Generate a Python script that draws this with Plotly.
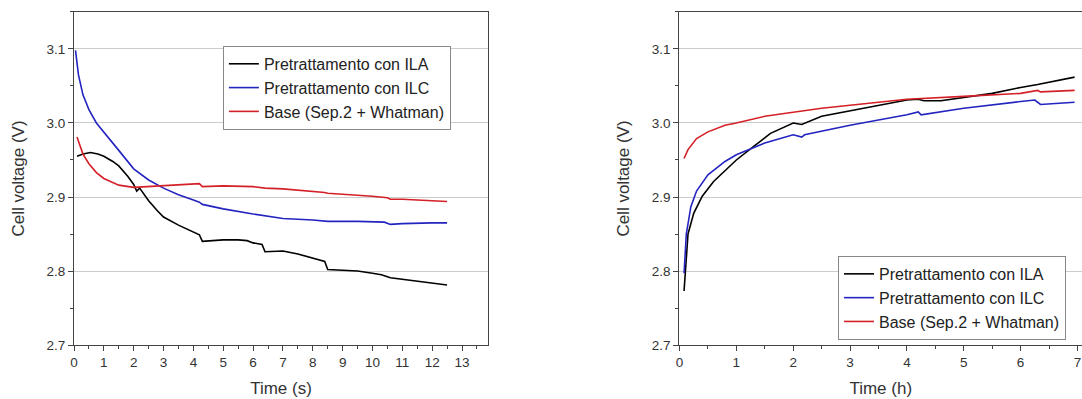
import plotly.graph_objects as go

# ---- Left panel data: Time (s) ----
t_ila_s = [0.1, 0.3, 0.55, 0.8, 1.0, 1.3, 1.5, 1.8, 2.0, 2.1, 2.2, 2.5, 2.8, 3.0, 3.5, 4.0, 4.2, 4.3, 4.7, 5.0, 5.5, 5.8, 6.0, 6.3, 6.4, 7.0, 7.5, 8.0, 8.4, 8.5, 9.0, 9.5, 10.0, 10.3, 10.6, 11.0, 11.5, 12.0, 12.5]
v_ila_s = [2.955, 2.958, 2.96, 2.958, 2.955, 2.948, 2.942, 2.928, 2.917, 2.908, 2.912, 2.895, 2.881, 2.873, 2.862, 2.853, 2.849, 2.840, 2.841, 2.842, 2.842, 2.841, 2.838, 2.836, 2.826, 2.827, 2.823, 2.818, 2.813, 2.802, 2.801, 2.800, 2.797, 2.795, 2.791, 2.789, 2.786, 2.783, 2.781]

t_ilc_s = [0.05, 0.15, 0.3, 0.5, 0.75, 1.0, 1.5, 2.0, 2.5, 3.0, 3.5, 4.0, 4.2, 4.3, 5.0, 6.0, 6.3, 6.4, 7.0, 8.0, 8.4, 8.5, 9.5, 10.4, 10.6, 11.0, 12.0, 12.5]
v_ilc_s = [3.098, 3.065, 3.038, 3.018, 3.0, 2.988, 2.963, 2.938, 2.923, 2.912, 2.903, 2.896, 2.893, 2.890, 2.884, 2.877, 2.875, 2.874, 2.871, 2.869, 2.868, 2.867, 2.867, 2.866, 2.863, 2.864, 2.865, 2.865]

t_base_s = [0.1, 0.2, 0.3, 0.5, 0.75, 1.0, 1.5, 2.0, 2.5, 3.0, 3.5, 4.2, 4.3, 5.0, 6.0, 6.4, 7.0, 8.0, 8.4, 8.5, 9.0, 10.0, 10.5, 10.6, 11.0, 12.0, 12.5]
v_base_s = [2.981, 2.97, 2.958, 2.945, 2.933, 2.925, 2.916, 2.913, 2.914, 2.916, 2.917, 2.918, 2.914, 2.915, 2.914, 2.912, 2.911, 2.908, 2.906, 2.905, 2.904, 2.901, 2.899, 2.897, 2.897, 2.895, 2.894]

# ---- Right panel data: Time (h) ----
t_ila_h = [0.08, 0.1, 0.15, 0.25, 0.4, 0.6, 0.8, 1.0, 1.3, 1.6, 2.0, 2.15, 2.5, 3.0, 3.5, 4.0, 4.2, 4.3, 4.6, 5.0, 5.5, 6.0, 6.3, 6.95]
v_ila_h = [2.773, 2.80, 2.85, 2.878, 2.901, 2.921, 2.936, 2.95, 2.968, 2.986, 3.0, 2.998, 3.009, 3.016, 3.024, 3.031, 3.032, 3.030, 3.030, 3.034, 3.040, 3.048, 3.052, 3.062]

t_ilc_h = [0.08, 0.12, 0.2, 0.3, 0.5, 0.8, 1.0, 1.5, 2.0, 2.15, 2.2, 3.0, 4.0, 4.2, 4.25, 5.0, 6.0, 6.25, 6.35, 6.95]
v_ilc_h = [2.797, 2.85, 2.887, 2.908, 2.93, 2.948, 2.957, 2.973, 2.984, 2.981, 2.984, 2.997, 3.011, 3.015, 3.011, 3.020, 3.029, 3.031, 3.025, 3.028]

t_base_h = [0.08, 0.15, 0.3, 0.5, 0.8, 1.0, 1.5, 2.0, 2.5, 3.0, 4.0, 5.0, 6.0, 6.3, 6.35, 6.95]
v_base_h = [2.952, 2.964, 2.979, 2.988, 2.997, 3.0, 3.009, 3.015, 3.02, 3.024, 3.032, 3.036, 3.040, 3.044, 3.042, 3.044]

names = ["Pretrattamento con ILA", "Pretrattamento con ILC", "Base (Sep.2 + Whatman)"]
colors = ["#000000", "#2424c0", "#d42027"]

y_ticks = [2.7, 2.8, 2.9, 3.0, 3.1]
y_ticklabels = ["2.7", "2.8", "2.9", "3.0", "3.1"]
x_ticks_s = list(range(0, 14))
x_ticks_h = list(range(0, 8))

FONT = "Liberation Sans, Arial, sans-serif"

fig = go.Figure()
left = [(t_ila_s, v_ila_s), (t_ilc_s, v_ilc_s), (t_base_s, v_base_s)]
right = [(t_ila_h, v_ila_h), (t_ilc_h, v_ilc_h), (t_base_h, v_base_h)]
for (x, y), n, c in zip(left, names, colors):
    fig.add_trace(go.Scatter(x=x, y=y, mode="lines", name=n, line=dict(color=c, width=1.6),
                             xaxis="x", yaxis="y", legend="legend"))
for (x, y), n, c in zip(right, names, colors):
    fig.add_trace(go.Scatter(x=x, y=y, mode="lines", name=n, line=dict(color=c, width=1.6),
                             xaxis="x2", yaxis="y2", legend="legend2"))

ydom = [0.1353, 0.97]
common_axis = dict(showline=True, linecolor="#444444", linewidth=1.3, mirror=True,
                   ticks="outside", ticklen=5, tickwidth=1.2, tickcolor="#444444", automargin=False,
                   tickfont=dict(family=FONT, size=13.5, color="#333333"), zeroline=False)
minor_x = dict(dtick=0.5, tick0=0, ticks="outside", ticklen=3, tickcolor="#444444")
minor_y = dict(dtick=0.05, tick0=2.7, ticks="outside", ticklen=3, tickcolor="#444444", showgrid=False)
title_font = dict(size=17, family=FONT, color="#333333")
legend_font = dict(family=FONT, size=16, color="#222222")

fig.update_layout(
    width=1082, height=399,
    margin=dict(l=0, r=0, t=0, b=0),
    paper_bgcolor="white", plot_bgcolor="white",
    font=dict(family=FONT, color="#333333"),
    xaxis=dict(domain=[0.0684, 0.451], range=[0, 13.87], tickvals=x_ticks_s, showgrid=False,
               minor=minor_x, title=dict(text="Time (s)", font=title_font, standoff=12),
               anchor="y", **common_axis),
    yaxis=dict(domain=ydom, range=[2.7, 3.15], tickvals=y_ticks, ticktext=y_ticklabels,
               showgrid=True, gridcolor="#cccccc", gridwidth=1, minor=minor_y,
               title=dict(text="Cell voltage (V)", font=title_font, standoff=17),
               anchor="x", **common_axis),
    xaxis2=dict(domain=[0.628, 1.0], range=[0, 7.08], tickvals=x_ticks_h, showgrid=False,
                minor=minor_x, title=dict(text="Time (h)", font=title_font, standoff=12),
                anchor="y2", **common_axis),
    yaxis2=dict(domain=ydom, range=[2.7, 3.15], tickvals=y_ticks, ticktext=y_ticklabels,
                showgrid=True, gridcolor="#cccccc", gridwidth=1, minor=minor_y,
                title=dict(text="Cell voltage (V)", font=title_font, standoff=17),
                anchor="x2", **common_axis),
    legend=dict(x=0.206, y=0.885, xanchor="left", yanchor="top", bgcolor="white",
                bordercolor="#888888", borderwidth=1, font=legend_font, tracegroupgap=0),
    legend2=dict(x=0.7745, y=0.148, xanchor="left", yanchor="bottom", bgcolor="white",
                 bordercolor="#888888", borderwidth=1, font=legend_font, tracegroupgap=0),
    showlegend=True,
)

fig.write_html("out.html")
